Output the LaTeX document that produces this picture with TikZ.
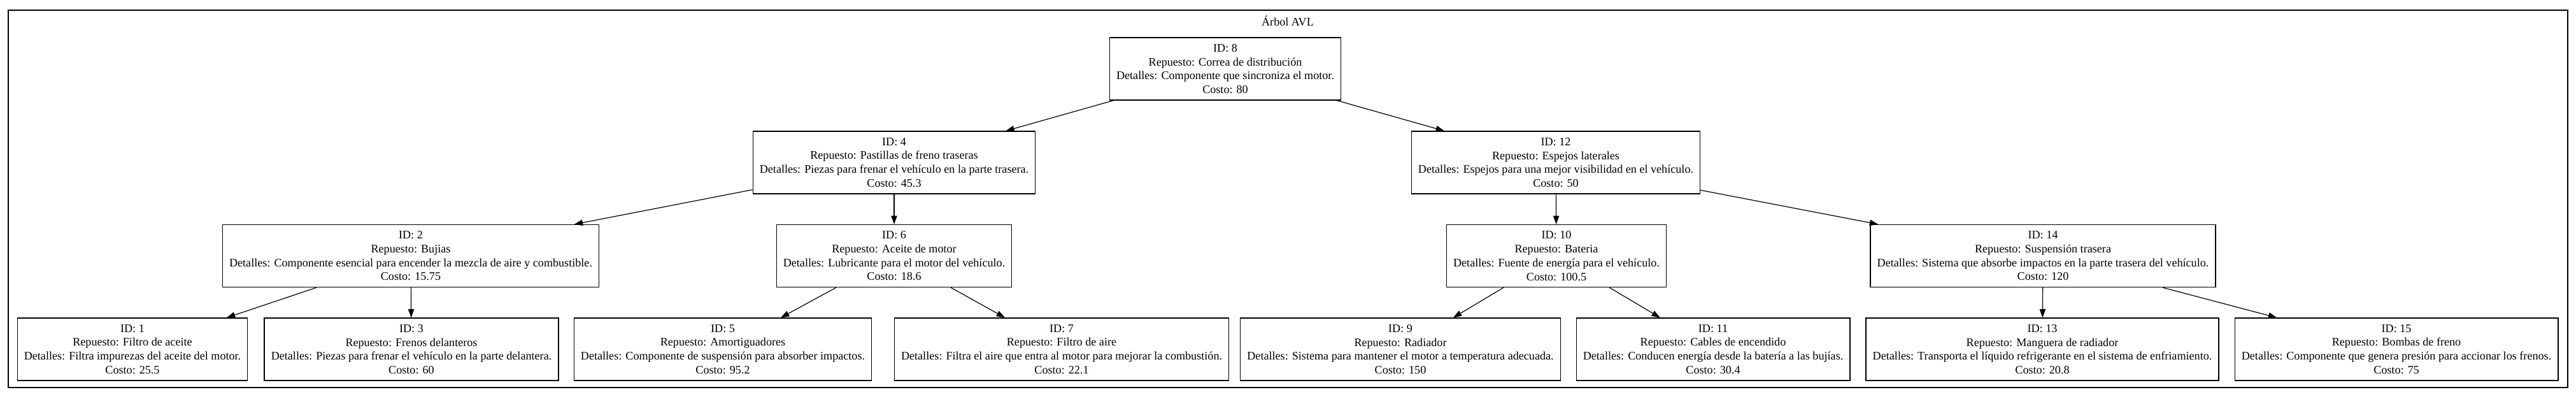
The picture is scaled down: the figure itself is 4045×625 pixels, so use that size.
\documentclass[tikz,border=0pt]{standalone}
\usepackage{fontspec}
\setmainfont{Liberation Serif}
\usetikzlibrary{arrows.meta}

\begin{document}
\begin{tikzpicture}[
    x=0.75pt, y=-0.75pt,
    repuesto/.style={rectangle, draw, line width=0.9pt, align=center,
                  inner xsep=8pt, minimum height=73.5pt,
                  font=\fontsize{13.6}{16.3}\selectfont},
    arrow/.style={-{Triangle[length=10pt, width=7pt]}, line width=0.9pt},
    lbl/.style={font=\fontsize{13.6}{16.3}\selectfont}
]
\useasboundingbox (0,0) rectangle (4045,625);

%% ── Frame ───────────────────────────────────────────────────────
\draw[line width=0.9pt] (13,16) rectangle (4032,608);
\node[lbl] (titulo) at (2022,33) {Árbol AVL};

%% ── Nodes ───────────────────────────────────────────────────────
\node[repuesto] (n8) at (1924,108)
    {ID: 8\\Repuesto: Correa de distribución\\Detalles: Componente que sincroniza el motor.\\Costo: 80};

\node[repuesto] (n4) at (1404,255)
    {ID: 4\\Repuesto: Pastillas de freno traseras\\Detalles: Piezas para frenar el vehículo en la parte trasera.\\Costo: 45.3};
\node[repuesto] (n12) at (2443,255)
    {ID: 12\\Repuesto: Espejos laterales\\Detalles: Espejos para una mejor visibilidad en el vehículo.\\Costo: 50};

\node[repuesto] (n2) at (645,401.5)
    {ID: 2\\Repuesto: Bujias\\Detalles: Componente esencial para encender la mezcla de aire y combustible.\\Costo: 15.75};
\node[repuesto] (n6) at (1404,401.5)
    {ID: 6\\Repuesto: Aceite de motor\\Detalles: Lubricante para el motor del vehículo.\\Costo: 18.6};
\node[repuesto] (n10) at (2444,401.5)
    {ID: 10\\Repuesto: Bateria\\Detalles: Fuente de energía para el vehículo.\\Costo: 100.5};
\node[repuesto] (n14) at (3208,401.5)
    {ID: 14\\Repuesto: Suspensión trasera\\Detalles: Sistema que absorbe impactos en la parte trasera del vehículo.\\Costo: 120};

\node[repuesto] (n1) at (208,548)
    {ID: 1\\Repuesto: Filtro de aceite\\Detalles: Filtra impurezas del aceite del motor.\\Costo: 25.5};
\node[repuesto] (n3) at (646,548)
    {ID: 3\\Repuesto: Frenos delanteros\\Detalles: Piezas para frenar el vehículo en la parte delantera.\\Costo: 60};
\node[repuesto] (n5) at (1135,548)
    {ID: 5\\Repuesto: Amortiguadores\\Detalles: Componente de suspensión para absorber impactos.\\Costo: 95.2};
\node[repuesto] (n7) at (1667,548)
    {ID: 7\\Repuesto: Filtro de aire\\Detalles: Filtra el aire que entra al motor para mejorar la combustión.\\Costo: 22.1};
\node[repuesto] (n9) at (2199,548)
    {ID: 9\\Repuesto: Radiador\\Detalles: Sistema para mantener el motor a temperatura adecuada.\\Costo: 150};
\node[repuesto] (n11) at (2690,548)
    {ID: 11\\Repuesto: Cables de encendido\\Detalles: Conducen energía desde la batería a las bujías.\\Costo: 30.4};
\node[repuesto] (n13) at (3207,548)
    {ID: 13\\Repuesto: Manguera de radiador\\Detalles: Transporta el líquido refrigerante en el sistema de enfriamiento.\\Costo: 20.8};
\node[repuesto] (n15) at (3763,548)
    {ID: 15\\Repuesto: Bombas de freno\\Detalles: Componente que genera presión para accionar los frenos.\\Costo: 75};

%% ── Edges ───────────────────────────────────────────────────────
\draw[arrow] (n8)  -- (n4);
\draw[arrow] (n8)  -- (n12);

\draw[arrow] (n4)  -- (n2);
\draw[arrow] (n4)  -- (n6);
\draw[arrow] (n12) -- (n10);
\draw[arrow] (n12) -- (n14);

\draw[arrow] (n2)  -- (n1);
\draw[arrow] (n2)  -- (n3);
\draw[arrow] (n6)  -- (n5);
\draw[arrow] (n6)  -- (n7);
\draw[arrow] (n10) -- (n9);
\draw[arrow] (n10) -- (n11);
\draw[arrow] (n14) -- (n13);
\draw[arrow] (n14) -- (n15);

\end{tikzpicture}
\end{document}
